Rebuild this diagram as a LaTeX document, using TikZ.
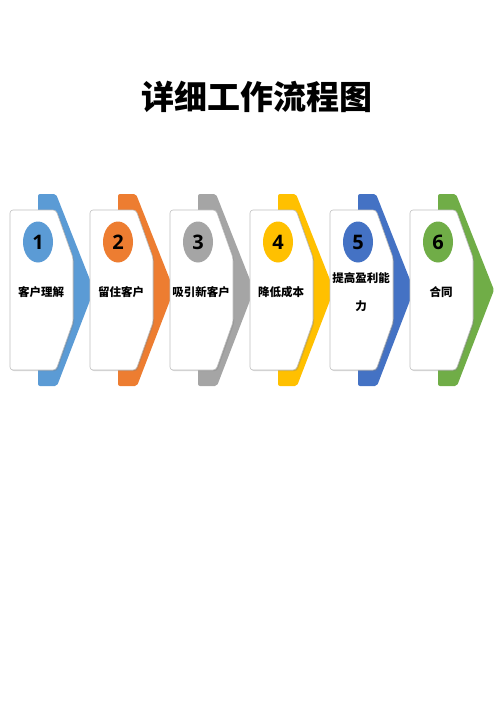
\documentclass[tikz,border=0pt]{standalone}
\usepackage{fontspec}
\setmainfont{Noto Sans CJK SC}
\newfontfamily\digitfont{Open Sans}
\usepackage{xcolor}
\usetikzlibrary{shadows, shapes.geometric}

\definecolor{stepone}{HTML}{5B9BD5}
\definecolor{steptwo}{HTML}{ED7D31}
\definecolor{stepthree}{HTML}{A5A5A5}
\definecolor{stepfour}{HTML}{FFC000}
\definecolor{stepfive}{HTML}{4472C4}
\definecolor{stepsix}{HTML}{70AD47}

\begin{document}
\begin{tikzpicture}[x=1pt, y=-1pt,
    arrowband/.style={fill=#1, rounded corners=2pt},
    card/.style={fill=white, draw=black!25, line width=0.6pt, rounded corners=3pt,
        drop shadow={shadow xshift=1.2pt, shadow yshift=-1.2pt, opacity=0.3}},
    badge/.style={ellipse, fill=#1, minimum width=30pt, minimum height=41pt, inner sep=0pt,
        font=\digitfont\bfseries\fontsize{20}{20}\selectfont},
    steplabel/.style={align=center, font=\bfseries\fontsize{11.5}{28}\selectfont}]
    \useasboundingbox (0,0) rectangle (500,707);

    % Draw title
    \node[font=\bfseries\fontsize{33}{33}\selectfont] (title) at (257,97) {详细工作流程图};

    % Draw steps
    \foreach \i/\col/\txt in {0/stepone/客户理解, 1/steptwo/留住客户, 2/stepthree/吸引新客户,
        3/stepfour/降低成本, 4/stepfive/提高盈利能\\力, 5/stepsix/合同} {
        \begin{scope}[xshift=80*\i]
            \fill[arrowband=\col] (38,194) -- (56,194) -- (94,290) -- (57,386) -- (38,386) -- cycle;
            \draw[card] (10,210) -- (56,210) -- (73,258) -- (73,322) -- (56,370) -- (10,370) -- cycle;
            \pgfmathtruncatemacro{\n}{\i+1}
            \node[badge=\col] (badge\n) at (38,242) {\n};
            \node[steplabel] (label\n) at (41,292) {\txt};
        \end{scope}
    }
\end{tikzpicture}
\end{document}
